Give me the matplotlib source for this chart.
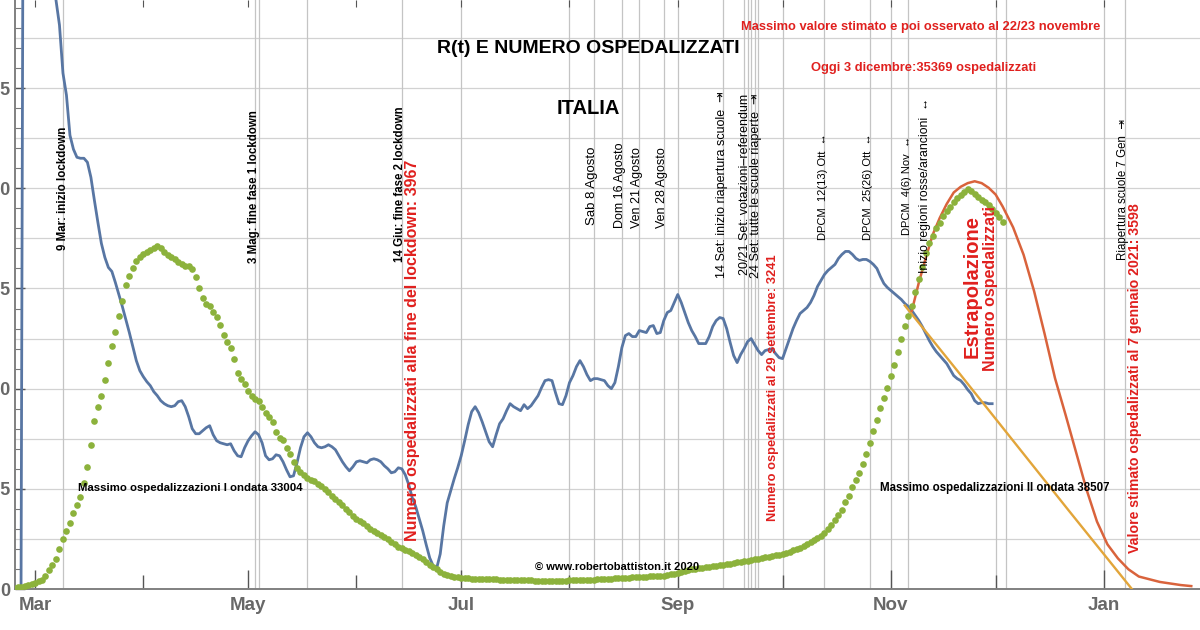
import matplotlib
matplotlib.use("Agg")
import matplotlib.dates as mdates
import matplotlib.pyplot as plt
import numpy as np
import pandas as pd
from matplotlib.ticker import MultipleLocator, NullFormatter

plt.rcParams["font.family"] = ["Liberation Sans", "DejaVu Sans"]

# ---------------------------------------------------------------------------
# Data
# ---------------------------------------------------------------------------

# R(t): a start spike that leaves the chart, then one value per day from 5 Mar
R_SPIKE_DATES = ["2020-02-26", "2020-02-27"]
R_SPIKE = [0.0, 6.0]
R_START = "2020-03-05"
R_VALUES = [
    3.40, 3.15, 2.94, 2.815, 2.575, 2.465, 2.265, 2.195, 2.155, 2.15,
    2.15, 2.13, 2.055, 1.94, 1.83, 1.725, 1.655, 1.605, 1.585, 1.53,
    1.47, 1.41, 1.345, 1.28, 1.21, 1.14, 1.09, 1.06, 1.035, 1.015,
    0.985, 0.965, 0.94, 0.925, 0.915, 0.91, 0.915, 0.935, 0.94, 0.91,
    0.86, 0.80, 0.775, 0.775, 0.79, 0.805, 0.815, 0.77, 0.74, 0.73,
    0.725, 0.72, 0.725, 0.69, 0.665, 0.66, 0.705, 0.74, 0.765, 0.785,
    0.77, 0.73, 0.665, 0.645, 0.65, 0.67, 0.665, 0.635, 0.595, 0.56,
    0.565, 0.63, 0.705, 0.76, 0.78, 0.76, 0.73, 0.71, 0.705, 0.71,
    0.72, 0.71, 0.695, 0.665, 0.635, 0.61, 0.59, 0.61, 0.635, 0.64,
    0.635, 0.63, 0.645, 0.65, 0.645, 0.635, 0.615, 0.60, 0.58, 0.585,
    0.605, 0.60, 0.57, 0.52, 0.455, 0.41, 0.35, 0.29, 0.22, 0.155,
    0.115, 0.105, 0.175, 0.315, 0.43, 0.49, 0.55, 0.605, 0.665, 0.74,
    0.82, 0.885, 0.91, 0.88, 0.835, 0.785, 0.735, 0.71, 0.77, 0.825,
    0.85, 0.89, 0.925, 0.91, 0.90, 0.89, 0.92, 0.90, 0.915, 0.94,
    0.965, 1.005, 1.04, 1.045, 1.04, 0.98, 0.925, 0.92, 0.965, 1.03,
    1.065, 1.11, 1.14, 1.11, 1.07, 1.04, 1.05, 1.05, 1.045, 1.04,
    1.015, 1.00, 1.03, 1.11, 1.205, 1.265, 1.275, 1.26, 1.26, 1.29,
    1.285, 1.28, 1.31, 1.315, 1.275, 1.28, 1.34, 1.38, 1.39, 1.43,
    1.47, 1.43, 1.38, 1.33, 1.29, 1.26, 1.225, 1.225, 1.225, 1.26,
    1.31, 1.34, 1.355, 1.35, 1.30, 1.23, 1.165, 1.13, 1.17, 1.20,
    1.235, 1.25, 1.22, 1.19, 1.17, 1.19, 1.195, 1.20, 1.175, 1.155,
    1.15, 1.20, 1.25, 1.30, 1.34, 1.375, 1.39, 1.405, 1.43, 1.465,
    1.51, 1.54, 1.57, 1.59, 1.605, 1.62, 1.65, 1.67, 1.685, 1.685,
    1.67, 1.65, 1.64, 1.645, 1.645, 1.635, 1.62, 1.60, 1.56, 1.525,
    1.505, 1.49, 1.475, 1.46, 1.445, 1.425, 1.41, 1.39, 1.365, 1.34,
    1.31, 1.275, 1.24, 1.21, 1.185, 1.165, 1.145, 1.125, 1.095, 1.065,
    1.05, 1.04, 1.02, 0.995, 0.975, 0.94, 0.925, 0.93, 0.93, 0.925, 0.925,
]

# hospitalised patients, one value per day from 24 Feb to 3 Dec
HOSP_START = "2020-02-24"
HOSP = [
    130, 150, 160, 300, 400, 500, 600, 750, 900, 1250,
    1830, 2320, 2900, 3860, 4830, 5600, 6370, 7330, 8110, 8880,
    10230, 11770, 13900, 16210, 17560, 18600, 20100, 21800, 23400, 24800,
    26340, 27700, 29240, 30110, 30880, 31560, 31940, 32230, 32420, 32620,
    32810, 33004, 32810, 32420, 32130, 31940, 31750, 31460, 31270, 31070,
    31070, 30780, 30010, 28950, 27990, 27500, 27310, 26730, 26250, 25480,
    24510, 23840, 23260, 22200, 20840, 20270, 19780, 19110, 18620, 18340,
    18140, 17560, 16980, 16600, 16120, 15150, 14570, 14380, 13610, 13030,
    12260, 11680, 11290, 11000, 10710, 10520, 10420, 10130, 9940, 9650,
    9360, 8970, 8690, 8400, 8110, 7720, 7430, 7040, 6760, 6560,
    6370, 6080, 5790, 5600, 5400, 5210, 5020, 4830, 4540, 4340,
    4050, 3967, 3760, 3670, 3470, 3280, 3090, 2900, 2610, 2320,
    2120, 1930, 1640, 1450, 1350, 1250, 1160, 1110, 1060, 1040,
    1020, 1000, 990, 980, 960, 950, 940, 930, 920, 910,
    900, 890, 880, 870, 860, 850, 840, 830, 820, 810,
    810, 800, 800, 790, 790, 790, 790, 800, 810, 820,
    830, 840, 850, 860, 880, 890, 910, 920, 940, 960,
    980, 1000, 1020, 1040, 1060, 1080, 1100, 1120, 1140, 1160,
    1180, 1200, 1220, 1230, 1240, 1260, 1300, 1350, 1420, 1480,
    1530, 1600, 1700, 1820, 1900, 1950, 2000, 2050, 2100, 2150,
    2180, 2250, 2300, 2350, 2400, 2450, 2500, 2560, 2620, 2680,
    2740, 2800, 2860, 2930, 2990, 3050, 3120, 3180, 3241, 3320,
    3380, 3480, 3590, 3720, 3860, 3990, 4150, 4330, 4520, 4720,
    4900, 5150, 5420, 5780, 6200, 6650, 7150, 7650, 8350, 9000,
    9800, 10500, 11200, 12000, 13000, 14100, 15200, 16300, 17400, 18400,
    19400, 20500, 21600, 22800, 24100, 25300, 26300, 27300, 28600, 29900,
    31000, 32400, 33300, 34000, 34800, 35300, 35900, 36400, 36800, 37300,
    37700, 38000, 38200, 38507, 38300, 38100, 37800, 37500, 37300, 37000,
    36600, 36200, 35800, 35369,
]

# extrapolated hospitalised (red curve)
EXTRAP_DATES = [
    "2020-11-07", "2020-11-09", "2020-11-11", "2020-11-13", "2020-11-15",
    "2020-11-17", "2020-11-19", "2020-11-21", "2020-11-23", "2020-11-25",
    "2020-11-27", "2020-11-29", "2020-12-01", "2020-12-03", "2020-12-06",
    "2020-12-09", "2020-12-12", "2020-12-15", "2020-12-18", "2020-12-21",
    "2020-12-24", "2020-12-27", "2020-12-30", "2021-01-02", "2021-01-05",
    "2021-01-08", "2021-01-11", "2021-01-17", "2021-01-23", "2021-01-26",
]
EXTRAP_HOSP = [
    26800, 29500, 31900, 34150, 35750, 37100, 38200, 38750, 39100, 39280,
    39100, 38650, 38000, 36850, 34840, 32200, 28700, 24600, 20300, 16800,
    13200, 9600, 6500, 4300, 2950, 1900, 1200, 680, 380, 280,
]

# extrapolated R(t) (orange line)
EXTRAP_R_DATES = ["2020-11-05", "2020-11-20", "2020-12-06", "2020-12-22", "2021-01-09"]
EXTRAP_R = [1.415, 1.09, 0.74, 0.39, 0.0]

# event markers (thin grey verticals)
EVENT_DATES = [
    "2020-03-09", "2020-05-03", "2020-05-04", "2020-05-18", "2020-06-14",
    "2020-07-01", "2020-08-01", "2020-08-08", "2020-08-16", "2020-08-21",
    "2020-08-28", "2020-09-01", "2020-09-14", "2020-09-20", "2020-09-21",
    "2020-09-22", "2020-09-23", "2020-09-24", "2020-10-01", "2020-10-13",
    "2020-10-26", "2020-11-01", "2020-11-06", "2020-12-01", "2020-12-04",
    "2021-01-01", "2021-01-07",
]

Y_TICKS = [0, 0.5, 1.0, 1.5, 2.0, 2.5]
Y_TICK_LABELS = ["0", "0.5", "1.0", "1.5", "2.0", "2.5"]

# ---------------------------------------------------------------------------
# Style
# ---------------------------------------------------------------------------

Y_TOP = 2.94
HOSP_PER_R = 19300          # hospitalised per unit of R on the shared scale
BLUE = "#5876a3"
GREEN = "#8cb23c"
RED_LINE = "#d9633c"
ORANGE = "#e2a53a"
RED_TXT = "#e0201e"
GRID = "#d2d2d2"
TICK_GREY = "#686868"


def dn(s):
    return mdates.date2num(pd.Timestamp(s))


fig = plt.figure(figsize=(12, 6.3), dpi=100)
ax = fig.add_axes([15 / 1200, 41 / 630, 1185 / 1200, 589 / 630])
ax.set_xlim(dn("2020-02-24 06:30"), dn("2021-01-28 12:00"))
ax.set_ylim(0, Y_TOP)

for yv in np.arange(0.25, Y_TOP, 0.25):
    ax.axhline(yv, color=GRID, lw=0.9, zorder=0)
for d in EVENT_DATES:
    ax.axvline(dn(d), color="#c4c4c4", lw=0.9, zorder=0)

# R(t)
r_dates = list(pd.to_datetime(R_SPIKE_DATES)) + list(pd.date_range(R_START, periods=len(R_VALUES), freq="D"))
ax.plot(r_dates, R_SPIKE + R_VALUES, color=BLUE, lw=2.0, zorder=2, solid_joinstyle="round")
ax.plot(pd.to_datetime(EXTRAP_R_DATES), EXTRAP_R, color=ORANGE, lw=1.7, zorder=3)

# hospitalised on a twin scale
ax2 = ax.twinx()
ax2.set_ylim(0, Y_TOP * HOSP_PER_R)
ax2.set_axis_off()
ax2.plot(pd.to_datetime(EXTRAP_DATES), EXTRAP_HOSP, color=RED_LINE, lw=1.8, zorder=2)
hosp_dates = pd.date_range(HOSP_START, periods=len(HOSP), freq="D")
ax2.plot(hosp_dates, HOSP, "o", ms=4.8, color=GREEN, mec="none", zorder=3)

# ---------------------------------------------------------------------------
# Axes
# ---------------------------------------------------------------------------

ax.xaxis.set_major_locator(mdates.MonthLocator(bymonth=[1, 3, 5, 7, 9, 11]))
ax.xaxis.set_minor_locator(mdates.MonthLocator())
ax.xaxis.set_major_formatter(mdates.DateFormatter("%b"))
ax.tick_params(axis="x", which="major", direction="in", length=14, width=1,
               color="#555555", labelsize=13.5, labelcolor=TICK_GREY, pad=6)
ax.tick_params(axis="x", which="minor", direction="in", length=10, width=1, color="#555555")

ax.set_yticks(Y_TICKS)
ax.set_yticklabels(Y_TICK_LABELS)
ax.yaxis.set_minor_locator(MultipleLocator(0.1))
ax.tick_params(axis="y", which="major", direction="in", length=7, width=1,
               color="#555555", labelsize=13, labelcolor=TICK_GREY, pad=3)
ax.tick_params(axis="y", which="minor", direction="in", length=4, width=0.8, color="#777777")

for lbl in ax.get_xticklabels() + ax.get_yticklabels():
    lbl.set_fontweight("bold")

top = ax.secondary_xaxis("top")
top.xaxis.set_major_locator(mdates.MonthLocator())
top.xaxis.set_major_formatter(NullFormatter())
top.tick_params(direction="in", length=5, color="#555555")
top.spines["top"].set_visible(False)

for side in ("top", "right"):
    ax.spines[side].set_visible(False)
for side in ("left", "bottom"):
    ax.spines[side].set_color("#808080")
    ax.spines[side].set_linewidth(1.4)

# ---------------------------------------------------------------------------
# Texts (drawn on ax2 so they sit above the dots, positioned in R/date units)
# ---------------------------------------------------------------------------

T = ax.transData


def txt(x, y, s, **kw):
    kw.setdefault("transform", T)
    kw.setdefault("zorder", 5)
    ax2.text(dn(x), y, s, **kw)


def vlabel(x, y, s, size=8.5, weight="normal", color="black"):
    txt(x, y, s, rotation=90, ha="center", va="bottom", fontsize=size,
        fontweight=weight, color=color)


txt("2020-08-06 08:00", 2.70, "R(t) E NUMERO OSPEDALIZZATI", ha="center", va="center",
    fontsize=14, fontweight="bold")
txt("2020-08-06 08:00", 2.40, "ITALIA", ha="center", va="center", fontsize=14.5, fontweight="bold")
txt("2020-11-09 10:00", 2.805, "Massimo valore stimato e poi osservato al 22/23 novembre",
    ha="center", va="center", fontsize=9.3, fontweight="bold", color=RED_TXT)
txt("2020-11-10 12:00", 2.60, "Oggi 3 dicembre:35369 ospedalizzati",
    ha="center", va="center", fontsize=9.3, fontweight="bold", color=RED_TXT)

txt("2020-03-13 07:00", 0.505, "Massimo ospedalizzazioni I ondata 33004",
    ha="left", va="center", fontsize=8.2, fontweight="bold")
txt("2020-10-28 22:00", 0.505, "Massimo ospedalizzazioni II ondata 38507",
    ha="left", va="center", fontsize=8.3, fontweight="bold")
txt("2020-07-22 03:00", 0.11, "© www.robertobattiston.it 2020",
    ha="left", va="center", fontsize=8, fontweight="bold")

vlabel("2020-03-09", 1.69, "9 Mar: inizio lockdown", size=8.3, weight="bold")
vlabel("2020-05-02 17:00", 1.625, "3 Mag: fine fase 1 lockdown", size=8.3, weight="bold")
vlabel("2020-06-13 12:00", 1.63, "14 Giu: fine fase 2 lockdown", size=8.3, weight="bold")
vlabel("2020-06-17", 0.24, "Numero ospedalizzati alla fine del lockdown: 3967",
       size=11.5, weight="bold", color=RED_TXT)

vlabel("2020-08-07 12:00", 1.815, "Sab 8 Agosto", size=9.5)
vlabel("2020-08-15 12:00", 1.80, "Dom 16 Agosto", size=9)
vlabel("2020-08-20 08:00", 1.80, "Ven 21 Agosto", size=9)
vlabel("2020-08-27 12:00", 1.80, "Ven 28 Agosto", size=9)
vlabel("2020-09-13 16:00", 1.55, "14 Set: inizio riapertura scuole  \u21e5", size=9)
vlabel("2020-09-20 08:00", 1.565, "20/21 Set: votazioni\u2013referendum", size=9)
vlabel("2020-09-23 10:00", 1.55, "24 Set: tutte le scuole riaperte  \u21e5", size=9)
vlabel("2020-09-28 08:00", 0.34, "Numero ospedalizzati al 29 settembre: 3241",
       size=9.3, weight="bold", color=RED_TXT)

vlabel("2020-10-12 14:00", 1.74, "DPCM  12(13) Ott  \u2194", size=8)
vlabel("2020-10-25 12:00", 1.74, "DPCM  25(26) Ott  \u2194", size=8)
vlabel("2020-11-05 14:00", 1.765, "DPCM  4(6) Nov  \u2194", size=8)
vlabel("2020-11-10 20:00", 1.575, "Inizio regioni rosse/arancioni  \u2194", size=8.8)

vlabel("2020-11-24 07:00", 1.155, "Estrapolazione", size=14.5, weight="bold", color=RED_TXT)
vlabel("2020-11-29 10:00", 1.09, "Numero ospedalizzati", size=11.5, weight="bold", color=RED_TXT)

vlabel("2021-01-06 12:00", 1.64, "Riapertura scuole 7 Gen  \u21e5", size=8.3)
vlabel("2021-01-09 22:00", 0.18, "Valore stimato ospedalizzati al 7 gennaio 2021: 3598",
       size=10.2, weight="bold", color=RED_TXT)

fig.savefig("out.png", dpi=100)
